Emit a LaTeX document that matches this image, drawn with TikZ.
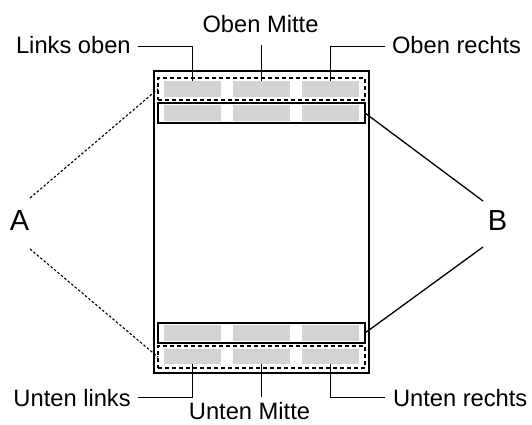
\documentclass[tikz,border=0pt]{standalone}
\usepackage{fontspec}
\setmainfont{Liberation Sans}
\definecolor{cellgray}{RGB}{211,211,211}
\begin{document}
\begin{tikzpicture}[x=1pt,y=-1pt,
  lbl/.style={inner sep=0pt, outer sep=0pt, font=\fontsize{23.7}{28}\selectfont},
  big/.style={inner sep=0pt, outer sep=0pt, font=\fontsize{29}{34}\selectfont},
  cell/.style={fill=cellgray, draw=none, minimum width=57pt, minimum height=16pt, inner sep=0pt, outer sep=0pt},
  band/.style={minimum width=207pt, inner sep=0pt, outer sep=0pt},
  dband/.style={band, draw, line width=1.3pt, dash pattern=on 4pt off 3pt, minimum height=22pt},
  sband/.style={band, draw, line width=1.7pt, minimum height=20pt},
  leader/.style={line width=1.2pt},
  aline/.style={line width=1.1pt, dash pattern=on 2.5pt off 2pt},
  bline/.style={line width=1.3pt}]
\useasboundingbox (0,0) rectangle (532,424);
\fill[white] (0,0) rectangle (532,424);
\node[draw, line width=1.9pt, minimum width=215pt, minimum height=302pt, inner sep=0pt, outer sep=0pt] (page) at (261.5,222) {};
\node[dband] (dtop) at (261.5,89) {};
\node[sband] (stop) at (261.5,113) {};
\node[sband] (sbot) at (261.5,333) {};
\node[dband] (dbot) at (261.5,357) {};
\foreach \i/\x in {1/192.5,2/261.5,3/330.5}{
  \node[cell] (t\i) at (\x,89) {};
  \node[cell] (m\i) at (\x,113) {};
  \node[cell] (n\i) at (\x,333) {};
  \node[cell, minimum height=15pt] (b\i) at (\x,356) {};
}
\node[lbl, anchor=base east] (lo) at (130.7,53.3) {Links oben};
\node[lbl, anchor=base] (om) at (260.5,32) {Oben Mitte};
\node[lbl, anchor=base west] (ore) at (392,53.3) {Oben rechts};
\node[lbl, anchor=base east] (ul) at (130.7,406) {Unten links};
\node[lbl, anchor=base] (um) at (249.5,419.5) {Unten Mitte};
\node[lbl, anchor=base west] (ur) at (393,406) {Unten rechts};
\node[big, anchor=base] (A) at (19.5,230) {A};
\node[big, anchor=base] (B) at (497.5,230.5) {B};
\draw[leader] ([shift={(6.8pt,-2pt)}]lo.east) -| (t1.north);
\draw[leader] (t2.north) -- ++(0,-36);
\draw[leader] ([shift={(-7pt,-2pt)}]ore.west) -| (t3.north);
\draw[leader] ([xshift=6.8pt]ul.east) -| (b1.south);
\draw[leader] (b2.south) -- ++(0,33);
\draw[leader] ([xshift=-8pt]ur.west) -| (b3.south);
\coordinate (a1) at (30,198);
\coordinate (a2) at (30,249);
\coordinate (bb1) at (483,201);
\coordinate (bb2) at (483,247);
\draw[aline] (a1) -- (dtop.west);
\draw[aline] (a2) -- (dbot.west);
\draw[bline] (bb1) -- (stop.east);
\draw[bline] (bb2) -- (sbot.east);
\end{tikzpicture}
\end{document}
